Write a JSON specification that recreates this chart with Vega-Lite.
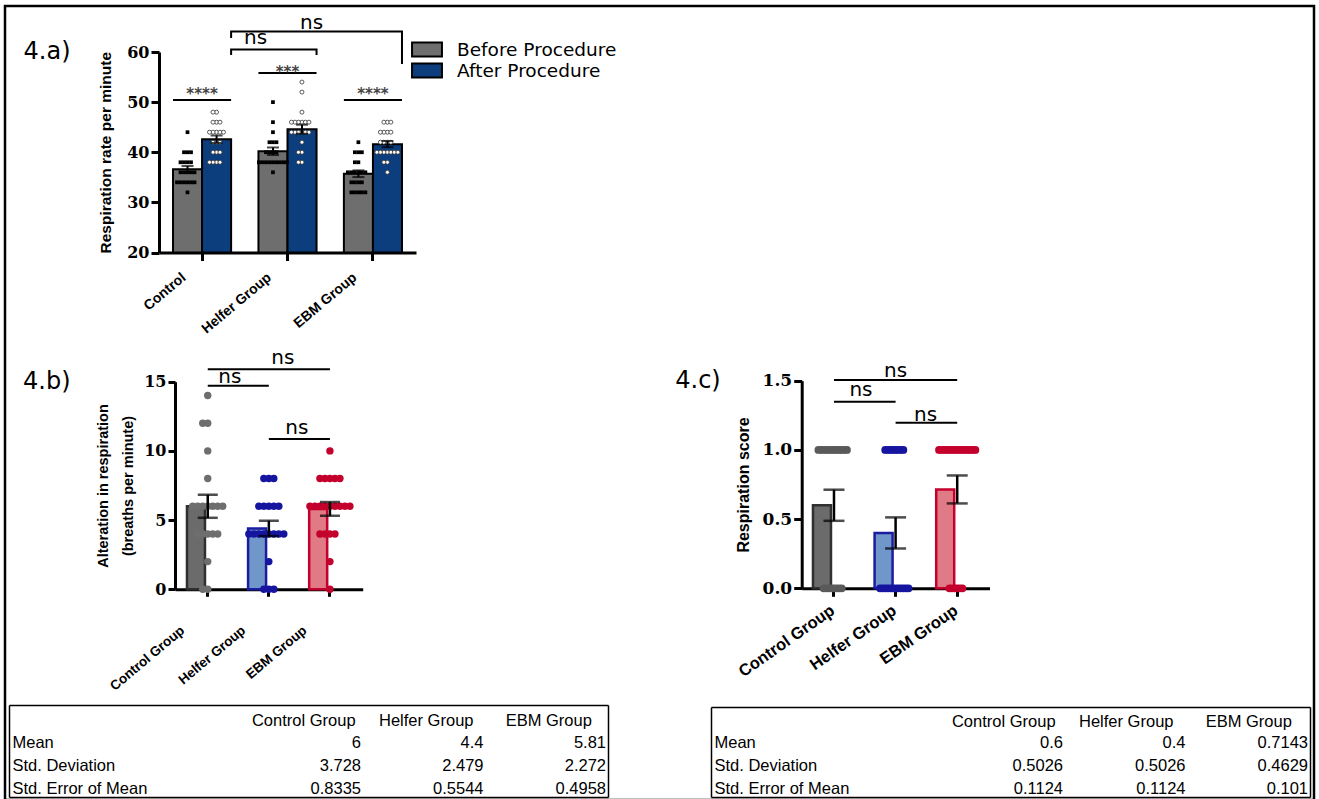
{
  "$schema": "https://vega.github.io/schema/vega-lite/v6.json",
  "width": 1309,
  "height": 794,
  "autosize": {"type": "none"},
  "padding": {"left": 5, "top": 6, "right": 5, "bottom": 0},
  "background": "white",
  "config": {
    "view": {"stroke": "black", "strokeWidth": 2.5},
    "axis": {"grid": false, "domainColor": "black", "tickColor": "black", "labelColor": "black", "titleColor": "black"}
  },
  "datasets": {
    "a": [
      {"g":"Control","p":"Before Procedure","v":44},{"g":"Control","p":"Before Procedure","v":40},{"g":"Control","p":"Before Procedure","v":40},{"g":"Control","p":"Before Procedure","v":40},
      {"g":"Control","p":"Before Procedure","v":38},{"g":"Control","p":"Before Procedure","v":38},{"g":"Control","p":"Before Procedure","v":38},{"g":"Control","p":"Before Procedure","v":38},
      {"g":"Control","p":"Before Procedure","v":36},{"g":"Control","p":"Before Procedure","v":36},{"g":"Control","p":"Before Procedure","v":36},{"g":"Control","p":"Before Procedure","v":36},{"g":"Control","p":"Before Procedure","v":36},
      {"g":"Control","p":"Before Procedure","v":34},{"g":"Control","p":"Before Procedure","v":34},{"g":"Control","p":"Before Procedure","v":34},{"g":"Control","p":"Before Procedure","v":34},{"g":"Control","p":"Before Procedure","v":34},{"g":"Control","p":"Before Procedure","v":34},
      {"g":"Control","p":"Before Procedure","v":32},
      {"g":"Control","p":"After Procedure","v":48},{"g":"Control","p":"After Procedure","v":48},
      {"g":"Control","p":"After Procedure","v":46},{"g":"Control","p":"After Procedure","v":46},{"g":"Control","p":"After Procedure","v":46},
      {"g":"Control","p":"After Procedure","v":44},{"g":"Control","p":"After Procedure","v":44},{"g":"Control","p":"After Procedure","v":44},{"g":"Control","p":"After Procedure","v":44},{"g":"Control","p":"After Procedure","v":44},
      {"g":"Control","p":"After Procedure","v":42},{"g":"Control","p":"After Procedure","v":42},{"g":"Control","p":"After Procedure","v":42},
      {"g":"Control","p":"After Procedure","v":40},{"g":"Control","p":"After Procedure","v":40},{"g":"Control","p":"After Procedure","v":40},
      {"g":"Control","p":"After Procedure","v":38},{"g":"Control","p":"After Procedure","v":38},{"g":"Control","p":"After Procedure","v":38},{"g":"Control","p":"After Procedure","v":38},
      {"g":"Helfer Group","p":"Before Procedure","v":50},{"g":"Helfer Group","p":"Before Procedure","v":46},{"g":"Helfer Group","p":"Before Procedure","v":44},
      {"g":"Helfer Group","p":"Before Procedure","v":42},{"g":"Helfer Group","p":"Before Procedure","v":42},{"g":"Helfer Group","p":"Before Procedure","v":42},
      {"g":"Helfer Group","p":"Before Procedure","v":40},{"g":"Helfer Group","p":"Before Procedure","v":40},{"g":"Helfer Group","p":"Before Procedure","v":40},{"g":"Helfer Group","p":"Before Procedure","v":40},
      {"g":"Helfer Group","p":"Before Procedure","v":38},{"g":"Helfer Group","p":"Before Procedure","v":38},{"g":"Helfer Group","p":"Before Procedure","v":38},{"g":"Helfer Group","p":"Before Procedure","v":38},{"g":"Helfer Group","p":"Before Procedure","v":38},
      {"g":"Helfer Group","p":"Before Procedure","v":38},{"g":"Helfer Group","p":"Before Procedure","v":38},{"g":"Helfer Group","p":"Before Procedure","v":38},{"g":"Helfer Group","p":"Before Procedure","v":38},
      {"g":"Helfer Group","p":"Before Procedure","v":36},
      {"g":"Helfer Group","p":"After Procedure","v":54},{"g":"Helfer Group","p":"After Procedure","v":52},{"g":"Helfer Group","p":"After Procedure","v":48},
      {"g":"Helfer Group","p":"After Procedure","v":46},{"g":"Helfer Group","p":"After Procedure","v":46},{"g":"Helfer Group","p":"After Procedure","v":46},{"g":"Helfer Group","p":"After Procedure","v":46},{"g":"Helfer Group","p":"After Procedure","v":46},{"g":"Helfer Group","p":"After Procedure","v":46},
      {"g":"Helfer Group","p":"After Procedure","v":44},{"g":"Helfer Group","p":"After Procedure","v":44},{"g":"Helfer Group","p":"After Procedure","v":44},{"g":"Helfer Group","p":"After Procedure","v":44},{"g":"Helfer Group","p":"After Procedure","v":44},{"g":"Helfer Group","p":"After Procedure","v":44},
      {"g":"Helfer Group","p":"After Procedure","v":42},{"g":"Helfer Group","p":"After Procedure","v":40},{"g":"Helfer Group","p":"After Procedure","v":40},{"g":"Helfer Group","p":"After Procedure","v":38},{"g":"Helfer Group","p":"After Procedure","v":38},
      {"g":"EBM Group","p":"Before Procedure","v":42},{"g":"EBM Group","p":"Before Procedure","v":40},{"g":"EBM Group","p":"Before Procedure","v":40},{"g":"EBM Group","p":"Before Procedure","v":40},
      {"g":"EBM Group","p":"Before Procedure","v":38},{"g":"EBM Group","p":"Before Procedure","v":38},
      {"g":"EBM Group","p":"Before Procedure","v":36},{"g":"EBM Group","p":"Before Procedure","v":36},{"g":"EBM Group","p":"Before Procedure","v":36},{"g":"EBM Group","p":"Before Procedure","v":36},{"g":"EBM Group","p":"Before Procedure","v":36},{"g":"EBM Group","p":"Before Procedure","v":36},
      {"g":"EBM Group","p":"Before Procedure","v":34},{"g":"EBM Group","p":"Before Procedure","v":34},{"g":"EBM Group","p":"Before Procedure","v":34},{"g":"EBM Group","p":"Before Procedure","v":34},
      {"g":"EBM Group","p":"Before Procedure","v":32},{"g":"EBM Group","p":"Before Procedure","v":32},{"g":"EBM Group","p":"Before Procedure","v":32},{"g":"EBM Group","p":"Before Procedure","v":32},{"g":"EBM Group","p":"Before Procedure","v":32},
      {"g":"EBM Group","p":"After Procedure","v":46},{"g":"EBM Group","p":"After Procedure","v":46},{"g":"EBM Group","p":"After Procedure","v":46},
      {"g":"EBM Group","p":"After Procedure","v":44},{"g":"EBM Group","p":"After Procedure","v":44},{"g":"EBM Group","p":"After Procedure","v":44},{"g":"EBM Group","p":"After Procedure","v":44},
      {"g":"EBM Group","p":"After Procedure","v":42},{"g":"EBM Group","p":"After Procedure","v":42},{"g":"EBM Group","p":"After Procedure","v":42},{"g":"EBM Group","p":"After Procedure","v":42},
      {"g":"EBM Group","p":"After Procedure","v":40},{"g":"EBM Group","p":"After Procedure","v":40},{"g":"EBM Group","p":"After Procedure","v":40},{"g":"EBM Group","p":"After Procedure","v":40},{"g":"EBM Group","p":"After Procedure","v":40},{"g":"EBM Group","p":"After Procedure","v":40},{"g":"EBM Group","p":"After Procedure","v":40},
      {"g":"EBM Group","p":"After Procedure","v":38},{"g":"EBM Group","p":"After Procedure","v":38},{"g":"EBM Group","p":"After Procedure","v":36}
    ],
    "b": [
      {"g":"Control Group","v":14},{"g":"Control Group","v":12},{"g":"Control Group","v":12},{"g":"Control Group","v":10},{"g":"Control Group","v":8},
      {"g":"Control Group","v":6},{"g":"Control Group","v":6},{"g":"Control Group","v":6},{"g":"Control Group","v":6},{"g":"Control Group","v":6},{"g":"Control Group","v":6},{"g":"Control Group","v":6},
      {"g":"Control Group","v":4},{"g":"Control Group","v":4},{"g":"Control Group","v":4},{"g":"Control Group","v":4},{"g":"Control Group","v":4},
      {"g":"Control Group","v":2},{"g":"Control Group","v":0},{"g":"Control Group","v":0},
      {"g":"Helfer Group","v":8},{"g":"Helfer Group","v":8},{"g":"Helfer Group","v":8},
      {"g":"Helfer Group","v":6},{"g":"Helfer Group","v":6},{"g":"Helfer Group","v":6},{"g":"Helfer Group","v":6},{"g":"Helfer Group","v":6},
      {"g":"Helfer Group","v":4},{"g":"Helfer Group","v":4},{"g":"Helfer Group","v":4},{"g":"Helfer Group","v":4},{"g":"Helfer Group","v":4},{"g":"Helfer Group","v":4},{"g":"Helfer Group","v":4},{"g":"Helfer Group","v":4},
      {"g":"Helfer Group","v":2},{"g":"Helfer Group","v":0},{"g":"Helfer Group","v":0},{"g":"Helfer Group","v":0},
      {"g":"EBM Group","v":10},
      {"g":"EBM Group","v":8},{"g":"EBM Group","v":8},{"g":"EBM Group","v":8},{"g":"EBM Group","v":8},{"g":"EBM Group","v":8},
      {"g":"EBM Group","v":6},{"g":"EBM Group","v":6},{"g":"EBM Group","v":6},{"g":"EBM Group","v":6},{"g":"EBM Group","v":6},{"g":"EBM Group","v":6},{"g":"EBM Group","v":6},{"g":"EBM Group","v":6},{"g":"EBM Group","v":6},
      {"g":"EBM Group","v":4},{"g":"EBM Group","v":4},{"g":"EBM Group","v":4},{"g":"EBM Group","v":4},
      {"g":"EBM Group","v":2},{"g":"EBM Group","v":0}
    ],
    "c": [
      {"g":"Control Group","v":1},{"g":"Control Group","v":1},{"g":"Control Group","v":1},{"g":"Control Group","v":1},{"g":"Control Group","v":1},{"g":"Control Group","v":1},
      {"g":"Control Group","v":1},{"g":"Control Group","v":1},{"g":"Control Group","v":1},{"g":"Control Group","v":1},{"g":"Control Group","v":1},{"g":"Control Group","v":1},
      {"g":"Control Group","v":0},{"g":"Control Group","v":0},{"g":"Control Group","v":0},{"g":"Control Group","v":0},{"g":"Control Group","v":0},{"g":"Control Group","v":0},{"g":"Control Group","v":0},{"g":"Control Group","v":0},
      {"g":"Helfer Group","v":1},{"g":"Helfer Group","v":1},{"g":"Helfer Group","v":1},{"g":"Helfer Group","v":1},{"g":"Helfer Group","v":1},{"g":"Helfer Group","v":1},{"g":"Helfer Group","v":1},{"g":"Helfer Group","v":1},
      {"g":"Helfer Group","v":0},{"g":"Helfer Group","v":0},{"g":"Helfer Group","v":0},{"g":"Helfer Group","v":0},{"g":"Helfer Group","v":0},{"g":"Helfer Group","v":0},
      {"g":"Helfer Group","v":0},{"g":"Helfer Group","v":0},{"g":"Helfer Group","v":0},{"g":"Helfer Group","v":0},{"g":"Helfer Group","v":0},{"g":"Helfer Group","v":0},
      {"g":"EBM Group","v":1},{"g":"EBM Group","v":1},{"g":"EBM Group","v":1},{"g":"EBM Group","v":1},{"g":"EBM Group","v":1},{"g":"EBM Group","v":1},{"g":"EBM Group","v":1},{"g":"EBM Group","v":1},
      {"g":"EBM Group","v":1},{"g":"EBM Group","v":1},{"g":"EBM Group","v":1},{"g":"EBM Group","v":1},{"g":"EBM Group","v":1},{"g":"EBM Group","v":1},{"g":"EBM Group","v":1},
      {"g":"EBM Group","v":0},{"g":"EBM Group","v":0},{"g":"EBM Group","v":0},{"g":"EBM Group","v":0},{"g":"EBM Group","v":0},{"g":"EBM Group","v":0}
    ],
    "la": [
      {"id":"b1","g":"Control","p":"After Procedure","y":59.4,"o":1},
      {"id":"b1","g":"Control","p":"After Procedure","y":60.5,"o":2},
      {"id":"b1","g":"Helfer Group","p":"After Procedure","y":60.5,"o":3},
      {"id":"b1","g":"Helfer Group","p":"After Procedure","y":59.4,"o":4},
      {"id":"b2","g":"Control","p":"After Procedure","y":62.8,"o":1},
      {"id":"b2","g":"Control","p":"After Procedure","y":64.1,"o":2},
      {"id":"b2","g":"EBM Group","p":"After Procedure","y":64.1,"o":3},
      {"id":"b2","g":"EBM Group","p":"After Procedure","y":57.6,"o":4},
      {"id":"s1","g":"Control","p":"Before Procedure","y":50.4,"o":1},
      {"id":"s1","g":"Control","p":"After Procedure","y":50.4,"o":2},
      {"id":"s2","g":"Helfer Group","p":"Before Procedure","y":55.8,"o":1},
      {"id":"s2","g":"Helfer Group","p":"After Procedure","y":55.8,"o":2},
      {"id":"s3","g":"EBM Group","p":"Before Procedure","y":50.4,"o":1},
      {"id":"s3","g":"EBM Group","p":"After Procedure","y":50.4,"o":2}
    ],
    "lb": [
      {"id":"l1","g":"Control Group","y":15.9,"o":1},{"id":"l1","g":"EBM Group","y":15.9,"o":2},
      {"id":"l2","g":"Control Group","y":14.7,"o":1},{"id":"l2","g":"Helfer Group","y":14.7,"o":2},
      {"id":"l3","g":"Helfer Group","y":10.86,"o":1},{"id":"l3","g":"EBM Group","y":10.86,"o":2}
    ],
    "lc": [
      {"id":"l1","g":"Control Group","y":1.505,"o":1},{"id":"l1","g":"EBM Group","y":1.505,"o":2},
      {"id":"l2","g":"Control Group","y":1.348,"o":1},{"id":"l2","g":"Helfer Group","y":1.348,"o":2},
      {"id":"l3","g":"Helfer Group","y":1.197,"o":1},{"id":"l3","g":"EBM Group","y":1.197,"o":2}
    ],
    "t1": [
      {"s":"Mean","g":"Control Group","val":"6"},{"s":"Mean","g":"Helfer Group","val":"4.4"},{"s":"Mean","g":"EBM Group","val":"5.81"},
      {"s":"Std. Deviation","g":"Control Group","val":"3.728"},{"s":"Std. Deviation","g":"Helfer Group","val":"2.479"},{"s":"Std. Deviation","g":"EBM Group","val":"2.272"},
      {"s":"Std. Error of Mean","g":"Control Group","val":"0.8335"},{"s":"Std. Error of Mean","g":"Helfer Group","val":"0.5544"},{"s":"Std. Error of Mean","g":"EBM Group","val":"0.4958"}
    ],
    "t2": [
      {"s":"Mean","g":"Control Group","val":"0.6"},{"s":"Mean","g":"Helfer Group","val":"0.4"},{"s":"Mean","g":"EBM Group","val":"0.7143"},
      {"s":"Std. Deviation","g":"Control Group","val":"0.5026"},{"s":"Std. Deviation","g":"Helfer Group","val":"0.5026"},{"s":"Std. Deviation","g":"EBM Group","val":"0.4629"},
      {"s":"Std. Error of Mean","g":"Control Group","val":"0.1124"},{"s":"Std. Error of Mean","g":"Helfer Group","val":"0.1124"},{"s":"Std. Error of Mean","g":"EBM Group","val":"0.101"}
    ]
  },
  "layer": [
    {
      "layer": [
        {
          "data": {"name": "a"},
          "mark": {"type": "bar", "stroke": "black", "strokeWidth": 2},
          "encoding": {
            "x": {"field": "g", "type": "nominal", "sort": null,
              "scale": {"type": "band", "domain": ["Control", "Helfer Group", "EBM Group"], "range": [154, 411], "paddingInner": 0.32, "paddingOuter": 0.164},
              "axis": {"orient": "bottom", "offset": -547.5, "title": null, "domainWidth": 3, "tickWidth": 3, "tickSize": 8, "labelAngle": -40, "labelAlign": "right", "labelBaseline": "middle", "labelOffset": -18, "labelPadding": 15, "labelFont": "Liberation Sans", "labelFontWeight": "bold", "labelFontSize": 14}},
            "xOffset": {"field": "p", "type": "nominal", "scale": {"domain": ["Before Procedure", "After Procedure"], "paddingInner": 0, "paddingOuter": 0}},
            "y": {"aggregate": "mean", "field": "v", "type": "quantitative",
              "scale": {"domain": [20, 60], "range": [246.5, 46], "nice": false, "zero": false},
              "axis": {"orient": "left", "offset": -154, "title": "Respiration rate per minute", "values": [20, 30, 40, 50, 60], "domainWidth": 3, "tickWidth": 3, "tickSize": 8, "labelPadding": 2, "labelFont": "DejaVu Serif", "labelFontWeight": "bold", "labelFontSize": 16, "titleFont": "Liberation Sans", "titleFontWeight": "bold", "titleFontSize": 15.5, "titlePadding": 13}},
            "y2": {"datum": 20},
            "fill": {"field": "p", "type": "nominal",
              "scale": {"domain": ["Before Procedure", "After Procedure"], "range": ["#6e6e6e", "#0c3e7e"]},
              "legend": {"orient": "none", "legendX": 412.5, "legendY": 34, "title": null, "symbolType": "M-1.76,-0.82H1.76V0.82H-1.76Z", "symbolSize": 289, "symbolStrokeColor": "black", "symbolStrokeWidth": 2, "labelFont": "DejaVu Sans", "labelFontSize": 18.5, "labelColor": "black", "labelOffset": 20.5, "rowPadding": -8, "padding": 0, "labelLimit": 400}}
          }
        },
        {
          "data": {"name": "a"},
          "transform": [{"filter": {"field": "p", "equal": "Before Procedure"}}, {"window": [{"op": "row_number", "as": "k"}], "groupby": ["g", "p", "v"]}],
          "mark": {"type": "square", "size": 14, "color": "black", "opacity": 1},
          "encoding": {
            "x": {"field": "g", "type": "nominal", "axis": null},
            "xOffset": {"field": "k", "type": "ordinal", "scale": {"type": "point", "domain": [14,12,10,8,6,4,2,1,3,5,7,9,11,13,15], "range": [-10, 39], "padding": 0}},
            "y": {"field": "v", "type": "quantitative", "axis": null}
          }
        },
        {
          "data": {"name": "a"},
          "transform": [{"filter": {"field": "p", "equal": "After Procedure"}}, {"window": [{"op": "row_number", "as": "k"}], "groupby": ["g", "p", "v"]}],
          "mark": {"type": "circle", "size": 16, "fill": "white", "stroke": "#333333", "strokeWidth": 0.8, "opacity": 1},
          "encoding": {
            "x": {"field": "g", "type": "nominal", "axis": null},
            "xOffset": {"field": "k", "type": "ordinal", "scale": {"type": "point", "domain": [14,12,10,8,6,4,2,1,3,5,7,9,11,13,15], "range": [19, 68], "padding": 0}},
            "y": {"field": "v", "type": "quantitative", "axis": null}
          }
        },
        {
          "data": {"name": "a"},
          "mark": {"type": "errorbar", "extent": "stderr", "color": "black", "ticks": {"size": 12, "thickness": 2, "color": "black"}, "rule": {"strokeWidth": 2, "color": "black"}},
          "encoding": {
            "x": {"field": "g", "type": "nominal", "axis": null},
            "xOffset": {"field": "p", "type": "nominal", "scale": {"domain": ["Before Procedure", "After Procedure"], "paddingInner": 0, "paddingOuter": 0}},
            "y": {"field": "v", "type": "quantitative", "axis": null}
          }
        },
        {
          "data": {"name": "la"},
          "mark": {"type": "line", "color": "black", "strokeWidth": 2},
          "encoding": {
            "x": {"field": "g", "type": "nominal", "axis": null},
            "xOffset": {"field": "p", "type": "nominal", "scale": {"domain": ["Before Procedure", "After Procedure"], "paddingInner": 0, "paddingOuter": 0}},
            "y": {"field": "y", "type": "quantitative", "axis": null},
            "detail": {"field": "id", "type": "nominal"},
            "order": {"field": "o", "type": "quantitative"}
          }
        },
        {
          "data": {"values": [{"g": "Control", "t": "****", "y": 50.6}, {"g": "Helfer Group", "t": "***", "y": 55.0}, {"g": "EBM Group", "t": "****", "y": 50.6}]},
          "mark": {"type": "text", "font": "DejaVu Sans", "fontWeight": "bold", "fontSize": 15, "color": "#444444", "baseline": "alphabetic"},
          "encoding": {
            "x": {"field": "g", "type": "nominal", "axis": null},
            "y": {"field": "y", "type": "quantitative", "axis": null},
            "text": {"field": "t"}
          }
        },
        {
          "data": {"values": [{"t": "ns"}]},
          "mark": {"type": "text", "font": "DejaVu Sans", "fontSize": 20, "baseline": "alphabetic", "dx": -32},
          "encoding": {"x": {"datum": "Helfer Group", "axis": null}, "y": {"datum": 61.6, "axis": null}, "text": {"field": "t"}}
        },
        {
          "data": {"values": [{"t": "ns"}]},
          "mark": {"type": "text", "font": "DejaVu Sans", "fontSize": 20, "baseline": "alphabetic", "dx": 24},
          "encoding": {"x": {"datum": "Helfer Group", "axis": null}, "y": {"datum": 64.6, "axis": null}, "text": {"field": "t"}}
        },
        {
          "data": {"values": [{"t": "4.a)"}]},
          "mark": {"type": "text", "font": "DejaVu Sans", "fontSize": 24, "baseline": "middle", "dx": -155},
          "encoding": {"x": {"datum": "Control", "axis": null}, "y": {"datum": 60, "axis": null}, "text": {"field": "t"}}
        }
      ],
      "resolve": {"scale": {"xOffset": "independent"}, "axis": {"x": "independent", "y": "independent"}}
    },
    {
      "layer": [
        {
          "data": {"name": "b"},
          "mark": {"type": "bar", "strokeWidth": 2.5},
          "encoding": {
            "x": {"field": "g", "type": "nominal", "sort": null,
              "scale": {"type": "band", "domain": ["Control Group", "Helfer Group", "EBM Group"], "range": [170, 357.7], "paddingInner": 0.32, "paddingOuter": 0.196},
              "axis": {"orient": "bottom", "offset": -210.7, "title": null, "domainWidth": 3, "tickWidth": 3, "tickSize": 7, "labelAngle": -40, "labelAlign": "right", "labelBaseline": "middle", "labelOffset": -25, "labelPadding": 32, "labelFont": "Liberation Sans", "labelFontWeight": "bold", "labelFontSize": 13.5}},
            "y": {"aggregate": "mean", "field": "v", "type": "quantitative",
              "scale": {"domain": [0, 15], "range": [583.3, 375.7], "nice": false},
              "axis": {"orient": "left", "offset": -170, "title": ["Alteration in respiration", "(breaths per minute)"], "values": [0, 5, 10, 15], "domainWidth": 3, "tickWidth": 3, "tickSize": 7, "labelPadding": 2, "labelFont": "DejaVu Serif", "labelFontWeight": "bold", "labelFontSize": 16, "titleFont": "Liberation Sans", "titleFontWeight": "bold", "titleFontSize": 14.5, "titlePadding": 8, "titleLineHeight": 25}},
            "fill": {"field": "g", "type": "nominal", "scale": {"domain": ["Control Group", "Helfer Group", "EBM Group"], "range": ["#6b6b6b", "#7097c9", "#e07a84"]}, "legend": null},
            "stroke": {"field": "g", "type": "nominal", "scale": {"domain": ["Control Group", "Helfer Group", "EBM Group"], "range": ["#303030", "#1c1ca0", "#c3002e"]}, "legend": null}
          }
        },
        {
          "data": {"name": "b"},
          "transform": [{"window": [{"op": "row_number", "as": "k"}], "groupby": ["g", "v"]}],
          "mark": {"type": "circle", "size": 55, "opacity": 1},
          "encoding": {
            "x": {"field": "g", "type": "nominal", "axis": null},
            "xOffset": {"field": "k", "type": "ordinal", "scale": {"type": "point", "domain": [14,12,10,8,6,4,2,1,3,5,7,9,11,13,15], "range": [-14.25, 55.75], "padding": 0}},
            "y": {"field": "v", "type": "quantitative", "axis": null},
            "color": {"field": "g", "type": "nominal", "scale": {"domain": ["Control Group", "Helfer Group", "EBM Group"], "range": ["#6e6e6e", "#1515a0", "#c4002c"]}, "legend": null}
          }
        },
        {
          "data": {"name": "b"},
          "mark": {"type": "errorbar", "extent": "stderr", "color": "black", "ticks": {"size": 20, "thickness": 2.5, "color": "black"}, "rule": {"strokeWidth": 2.5, "color": "black"}},
          "encoding": {
            "x": {"field": "g", "type": "nominal", "axis": null},
            "y": {"field": "v", "type": "quantitative", "axis": null}
          }
        },
        {
          "data": {"name": "lb"},
          "mark": {"type": "line", "color": "black", "strokeWidth": 2},
          "encoding": {
            "x": {"field": "g", "type": "nominal", "axis": null},
            "y": {"field": "y", "type": "quantitative", "axis": null},
            "detail": {"field": "id", "type": "nominal"},
            "order": {"field": "o", "type": "quantitative"}
          }
        },
        {
          "data": {"values": [{"t": "ns"}]},
          "mark": {"type": "text", "font": "DejaVu Sans", "fontSize": 20, "baseline": "alphabetic", "dx": 14},
          "encoding": {"x": {"datum": "Helfer Group", "axis": null}, "y": {"datum": 16.28, "axis": null}, "text": {"field": "t"}}
        },
        {
          "data": {"values": [{"t": "ns"}]},
          "mark": {"type": "text", "font": "DejaVu Sans", "fontSize": 20, "baseline": "alphabetic", "dx": 22},
          "encoding": {"x": {"datum": "Control Group", "axis": null}, "y": {"datum": 14.93, "axis": null}, "text": {"field": "t"}}
        },
        {
          "data": {"values": [{"t": "ns"}]},
          "mark": {"type": "text", "font": "DejaVu Sans", "fontSize": 20, "baseline": "alphabetic", "dx": 28},
          "encoding": {"x": {"datum": "Helfer Group", "axis": null}, "y": {"datum": 11.22, "axis": null}, "text": {"field": "t"}}
        },
        {
          "data": {"values": [{"t": "4.b)"}]},
          "mark": {"type": "text", "font": "DejaVu Sans", "fontSize": 24, "baseline": "middle", "dx": -161},
          "encoding": {"x": {"datum": "Control Group", "axis": null}, "y": {"datum": 15, "axis": null}, "text": {"field": "t"}}
        }
      ],
      "resolve": {"axis": {"x": "independent", "y": "independent"}}
    },
    {
      "layer": [
        {
          "data": {"name": "c"},
          "mark": {"type": "bar", "strokeWidth": 2.5},
          "encoding": {
            "x": {"field": "g", "type": "nominal", "sort": null,
              "scale": {"type": "band", "domain": ["Control Group", "Helfer Group", "EBM Group"], "range": [796.7, 984.5], "paddingInner": 0.318, "paddingOuter": 0.183},
              "axis": {"orient": "bottom", "offset": -211.7, "title": null, "domainWidth": 3, "tickWidth": 3, "tickSize": 8, "labelAngle": -35, "labelAlign": "right", "labelBaseline": "middle", "labelOffset": -1, "labelPadding": 12, "labelFont": "Liberation Sans", "labelFontWeight": "bold", "labelFontSize": 16.5}},
            "y": {"aggregate": "mean", "field": "v", "type": "quantitative",
              "scale": {"domain": [0, 1.5], "range": [582.3, 374.7], "nice": false},
              "axis": {"orient": "left", "offset": -796.7, "title": "Respiration score", "values": [0, 0.5, 1, 1.5], "format": ".1f", "domainWidth": 3, "tickWidth": 3, "tickSize": 8, "labelPadding": 2, "labelFont": "DejaVu Serif", "labelFontWeight": "bold", "labelFontSize": 17, "titleFont": "Liberation Sans", "titleFontWeight": "bold", "titleFontSize": 16, "titlePadding": 11}},
            "fill": {"field": "g", "type": "nominal", "scale": {"domain": ["Control Group", "Helfer Group", "EBM Group"], "range": ["#6b6b6b", "#7097c9", "#e07a84"]}, "legend": null},
            "stroke": {"field": "g", "type": "nominal", "scale": {"domain": ["Control Group", "Helfer Group", "EBM Group"], "range": ["#303030", "#1c1ca0", "#c3002e"]}, "legend": null}
          }
        },
        {
          "data": {"name": "c"},
          "transform": [{"window": [{"op": "row_number", "as": "k"}], "groupby": ["g", "v"]}],
          "mark": {"type": "circle", "size": 60, "opacity": 1},
          "encoding": {
            "x": {"field": "g", "type": "nominal", "axis": null},
            "xOffset": {"field": "k", "type": "ordinal", "scale": {"type": "point", "domain": [14,12,10,8,6,4,2,1,3,5,7,9,11,13,15], "range": [2.8, 39.2], "padding": 0}},
            "y": {"field": "v", "type": "quantitative", "axis": null},
            "color": {"field": "g", "type": "nominal", "scale": {"domain": ["Control Group", "Helfer Group", "EBM Group"], "range": ["#5a5a5a", "#1515a0", "#c4002c"]}, "legend": null}
          }
        },
        {
          "data": {"name": "c"},
          "mark": {"type": "errorbar", "extent": "stderr", "color": "black", "ticks": {"size": 21, "thickness": 2.5, "color": "black"}, "rule": {"strokeWidth": 2.5, "color": "black"}},
          "encoding": {
            "x": {"field": "g", "type": "nominal", "axis": null},
            "y": {"field": "v", "type": "quantitative", "axis": null}
          }
        },
        {
          "data": {"name": "lc"},
          "mark": {"type": "line", "color": "black", "strokeWidth": 2},
          "encoding": {
            "x": {"field": "g", "type": "nominal", "axis": null},
            "y": {"field": "y", "type": "quantitative", "axis": null},
            "detail": {"field": "id", "type": "nominal"},
            "order": {"field": "o", "type": "quantitative"}
          }
        },
        {
          "data": {"values": [{"t": "ns"}]},
          "mark": {"type": "text", "font": "DejaVu Sans", "fontSize": 20, "baseline": "alphabetic", "dx": 0},
          "encoding": {"x": {"datum": "Helfer Group", "axis": null}, "y": {"datum": 1.525, "axis": null}, "text": {"field": "t"}}
        },
        {
          "data": {"values": [{"t": "ns"}]},
          "mark": {"type": "text", "font": "DejaVu Sans", "fontSize": 20, "baseline": "alphabetic", "dx": 27},
          "encoding": {"x": {"datum": "Control Group", "axis": null}, "y": {"datum": 1.389, "axis": null}, "text": {"field": "t"}}
        },
        {
          "data": {"values": [{"t": "ns"}]},
          "mark": {"type": "text", "font": "DejaVu Sans", "fontSize": 20, "baseline": "alphabetic", "dx": 30},
          "encoding": {"x": {"datum": "Helfer Group", "axis": null}, "y": {"datum": 1.211, "axis": null}, "text": {"field": "t"}}
        },
        {
          "data": {"values": [{"t": "4.c)"}]},
          "mark": {"type": "text", "font": "DejaVu Sans", "fontSize": 24, "baseline": "middle", "dx": -136},
          "encoding": {"x": {"datum": "Control Group", "axis": null}, "y": {"datum": 1.5, "axis": null}, "text": {"field": "t"}}
        }
      ],
      "resolve": {"axis": {"x": "independent", "y": "independent"}}
    },
    {
      "data": {"name": "t1"},
      "layer": [
        {
          "transform": [{"filter": {"field": "g", "oneOf": ["Control Group", "Helfer Group"]}}],
          "mark": {"type": "text", "align": "right", "baseline": "middle", "dx": -2, "dy": 3.5, "font": "Liberation Sans", "fontSize": 16.5, "color": "black"},
          "encoding": {
            "x": {"field": "g", "type": "nominal", "bandPosition": 1,
              "scale": {"type": "band", "domain": ["Control Group", "Helfer Group", "EBM Group"], "range": [4, 603], "paddingInner": 0, "paddingOuter": 0.945, "align": 1},
              "axis": {"orient": "top", "offset": -699, "title": null, "ticks": false, "tickSize": 0, "domainWidth": 1.5, "labelPadding": -15, "labelBaseline": "middle", "labelAlign": "center", "labelAngle": 0, "labelOffset": 2, "labelFont": "Liberation Sans", "labelFontSize": 16.5, "labelLimit": 400}},
            "y": {"field": "s", "type": "nominal",
              "scale": {"type": "band", "domain": ["Mean", "Std. Deviation", "Std. Error of Mean"], "range": [699, 791], "paddingInner": 0, "paddingOuter": 0.5, "align": 1},
              "axis": {"orient": "left", "offset": -4, "title": null, "ticks": false, "tickSize": 0, "domainWidth": 1.5, "labelAlign": "left", "labelPadding": -3, "labelBaseline": "middle", "labelOffset": 3.5, "labelFont": "Liberation Sans", "labelFontSize": 16.5, "labelLimit": 400}},
            "text": {"field": "val"}
          }
        },
        {
          "transform": [{"filter": {"field": "g", "equal": "EBM Group"}}],
          "mark": {"type": "text", "align": "right", "baseline": "middle", "dx": -2, "dy": 3.5, "font": "Liberation Sans", "fontSize": 16.5, "color": "black"},
          "encoding": {
            "x": {"field": "g", "type": "nominal", "bandPosition": 1,
              "axis": {"orient": "bottom", "offset": -3, "title": null, "ticks": false, "tickSize": 0, "labels": false, "domainWidth": 1.5}},
            "y": {"field": "s", "type": "nominal",
              "axis": {"orient": "right", "offset": -706, "title": null, "ticks": false, "tickSize": 0, "labels": false, "domainWidth": 1.5}},
            "text": {"field": "val"}
          }
        }
      ],
      "resolve": {"axis": {"x": "independent", "y": "independent"}}
    },
    {
      "data": {"name": "t2"},
      "layer": [
        {
          "transform": [{"filter": {"field": "g", "oneOf": ["Control Group", "Helfer Group"]}}],
          "mark": {"type": "text", "align": "right", "baseline": "middle", "dx": -2, "dy": 3.5, "font": "Liberation Sans", "fontSize": 16.5, "color": "black"},
          "encoding": {
            "x": {"field": "g", "type": "nominal", "bandPosition": 1,
              "scale": {"type": "band", "domain": ["Control Group", "Helfer Group", "EBM Group"], "range": [706, 1305], "paddingInner": 0, "paddingOuter": 0.945, "align": 1},
              "axis": {"orient": "top", "offset": -701, "title": null, "ticks": false, "tickSize": 0, "domainWidth": 1.5, "labelPadding": -14, "labelBaseline": "middle", "labelAlign": "center", "labelAngle": 0, "labelOffset": 0, "labelFont": "Liberation Sans", "labelFontSize": 16.5, "labelLimit": 400}},
            "y": {"field": "s", "type": "nominal",
              "scale": {"type": "band", "domain": ["Mean", "Std. Deviation", "Std. Error of Mean"], "range": [701, 791], "paddingInner": 0, "paddingOuter": 0.4565, "align": 1},
              "axis": {"orient": "left", "offset": -706, "title": null, "ticks": false, "tickSize": 0, "domainWidth": 1.5, "labelAlign": "left", "labelPadding": -3, "labelBaseline": "middle", "labelOffset": 3.5, "labelFont": "Liberation Sans", "labelFontSize": 16.5, "labelLimit": 400}},
            "text": {"field": "val"}
          }
        },
        {
          "transform": [{"filter": {"field": "g", "equal": "EBM Group"}}],
          "mark": {"type": "text", "align": "right", "baseline": "middle", "dx": -2, "dy": 3.5, "font": "Liberation Sans", "fontSize": 16.5, "color": "black"},
          "encoding": {
            "x": {"field": "g", "type": "nominal", "bandPosition": 1,
              "axis": {"orient": "bottom", "offset": -3, "title": null, "ticks": false, "tickSize": 0, "labels": false, "domainWidth": 1.5}},
            "y": {"field": "s", "type": "nominal",
              "axis": {"orient": "right", "offset": -4, "title": null, "ticks": false, "tickSize": 0, "labels": false, "domainWidth": 1.5}},
            "text": {"field": "val"}
          }
        }
      ],
      "resolve": {"axis": {"x": "independent", "y": "independent"}}
    }
  ],
  "resolve": {
    "scale": {"x": "independent", "y": "independent", "xOffset": "independent", "fill": "independent", "stroke": "independent", "color": "independent"},
    "axis": {"x": "independent", "y": "independent"}
  }
}
